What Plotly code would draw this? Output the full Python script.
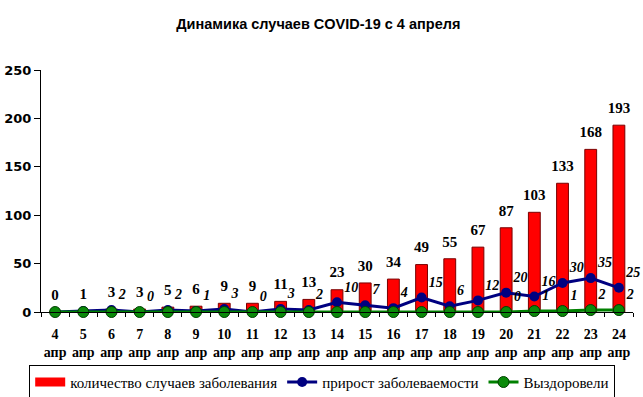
import plotly.graph_objects as go

days = [str(d) for d in range(4, 25)]
tick_labels = [f"{d}<br>апр" for d in days]
cases = [0, 1, 3, 3, 5, 6, 9, 9, 11, 13, 23, 30, 34, 49, 55, 67, 87, 103, 133, 168, 193]
growth = [0, 1, 2, 0, 2, 1, 3, 0, 3, 2, 10, 7, 4, 15, 6, 12, 20, 16, 30, 35, 25]
growth_labels = ["", "", "2", "0", "2", "1", "3", "0", "3", "2", "10", "7", "4", "15", "6", "12", "20", "16", "30", "35", "25"]
recovered = [0, 0, 0, 0, 0, 0, 0, 0, 0, 0, 0, 0, 0, 0, 0, 0, 0, 1, 1, 2, 2]
recovered_labels = [""] * 16 + ["0", "1", "1", "2", "2"]

serif = "Liberation Serif"
label_font = dict(family=serif, size=14, color="black", style="italic", weight="bold")

fig = go.Figure()
fig.add_trace(go.Bar(
    x=days, y=cases, name="количество случаев заболевания", showlegend=False,
    marker=dict(color="#FF0000", line=dict(color="#7a0000", width=1)),
    width=0.42,
))
# legend entry for the bars (wide red swatch)
fig.add_trace(go.Scatter(
    x=[None], y=[None], mode="lines", name="количество случаев заболевания",
    line=dict(color="#FF0000", width=9),
))
fig.add_trace(go.Scatter(
    x=days, y=growth, name="прирост заболеваемости",
    mode="lines+markers+text",
    line=dict(color="#000080", width=3),
    marker=dict(color="#000080", size=10, symbol="circle"),
    text=growth_labels, textposition="top right", textfont=label_font,
    cliponaxis=False,
))
fig.add_trace(go.Scatter(
    x=days, y=recovered, name="Выздоровели",
    mode="lines+markers+text",
    line=dict(color="#008000", width=3),
    marker=dict(color="#0a8a0a", size=11, symbol="circle", line=dict(color="#004000", width=1)),
    text=recovered_labels, textposition="top right", textfont=label_font,
    cliponaxis=False,
))
# case labels above bars
fig.add_trace(go.Scatter(
    x=days, y=cases, mode="markers+text", showlegend=False, hoverinfo="skip",
    marker=dict(size=12, opacity=0),
    text=[str(c) for c in cases], textposition="top center",
    textfont=dict(family=serif, size=15, color="black", weight="bold"),
    cliponaxis=False,
))

fig.update_layout(
    width=643, height=397,
    margin=dict(l=41, r=10, t=70, b=85, autoexpand=False),
    plot_bgcolor="white", paper_bgcolor="white",
    title=dict(text="Динамика случаев COVID-19 с 4 апреля", x=0.495, xanchor="center",
               y=0.94, yanchor="middle",
               font=dict(family="Liberation Sans", size=14.5, color="black", weight="bold")),
    showlegend=True,
    legend=dict(orientation="h", x=0.475, xanchor="center", y=-0.218, yanchor="top",
                bordercolor="black", borderwidth=1, bgcolor="white",
                font=dict(family=serif, size=15, color="black"),
                itemwidth=30, tracegroupgap=0),
    bargap=0.5,
)
fig.update_xaxes(
    type="category", tickvals=days, ticktext=tick_labels, tickangle=0,
    range=[-0.5, 20.5], autorange=False,
    automargin=False,
    showline=True, linecolor="black", linewidth=1,
    ticks="outside", tickson="boundaries", ticklen=4, tickcolor="black",
    tickfont=dict(family=serif, size=14, color="black", weight="bold"),
    ticklabelstandoff=9,
    showgrid=False, zeroline=False,
)
fig.update_yaxes(
    range=[0, 250], tickvals=[0, 50, 100, 150, 200, 250],
    automargin=False,
    showline=True, linecolor="black", linewidth=1,
    ticks="outside", ticklen=6, tickcolor="black",
    tickfont=dict(family="DejaVu Sans", size=13, color="black", weight="bold"),
    showgrid=False, zeroline=False,
)

fig.write_html("out.html", config={"displayModeBar": False},
               post_script="document.body.style.margin='0';")
